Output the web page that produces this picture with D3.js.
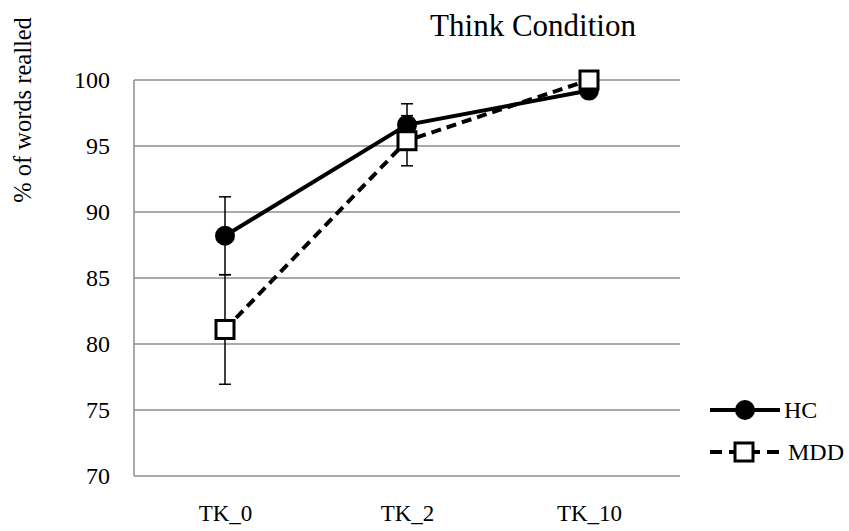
<!DOCTYPE html>
<html>
<head>
<meta charset="utf-8">
<script src="https://cdn.jsdelivr.net/npm/d3@7/dist/d3.min.js"></script>
<style>
  html, body { margin: 0; padding: 0; background: #fff; }
  svg { display: block; }
  svg text { fill: #000; }
</style>
</head>
<body>
<svg id="chart" width="849" height="531"></svg>
<script>
// Recall data: percentage of words recalled per delay, with error bars
const categories = ["TK_0", "TK_2", "TK_10"];
const hcValues = [88.2, 96.6, 99.2];
const hcErrors = [2.95, 1.6, 0.5];
const mddValues = [81.1, 95.4, 100.0];
const mddErrors = [4.15, 1.9, 0];
const yTicks = [70, 75, 80, 85, 90, 95, 100];
const seriesNames = ["HC", "MDD"];

const serif = '"Liberation Serif", "Times New Roman", Times, serif';
const svg = d3.select("#chart");
const plot = { left: 134, right: 680, top: 80, bottom: 476 };

const x = d3.scalePoint().domain(categories)
  .range([plot.left, plot.right]).padding(0.5);
const y = d3.scaleLinear().domain([70, 100]).range([plot.bottom, plot.top]);

// Horizontal gridlines
svg.append("g").selectAll("line").data(yTicks).join("line")
  .attr("x1", plot.left).attr("x2", plot.right)
  .attr("y1", d => y(d)).attr("y2", d => y(d))
  .attr("stroke", "#8e8e8e").attr("stroke-width", 1.5);

// Left axis line
svg.append("line")
  .attr("x1", plot.left).attr("x2", plot.left)
  .attr("y1", plot.top).attr("y2", plot.bottom)
  .attr("stroke", "#8e8e8e").attr("stroke-width", 1.5);

// Y axis labels
const yAxis = d3.axisLeft(y).tickValues(yTicks).tickSize(0).tickPadding(24);
const yg = svg.append("g").attr("transform", `translate(${plot.left},0)`).call(yAxis)
  .attr("font-family", serif).attr("font-size", 24);
yg.select(".domain").remove();
yg.selectAll("text").attr("dy", "0.33em");

// X axis labels
const xAxis = d3.axisBottom(x).tickSize(0).tickPadding(29);
const xg = svg.append("g").attr("transform", `translate(0,${plot.bottom})`).call(xAxis)
  .attr("font-family", serif).attr("font-size", 23);
xg.select(".domain").remove();

// Title
svg.append("text").attr("x", 533).attr("y", 36).attr("text-anchor", "middle")
  .attr("font-family", serif).attr("font-size", 31).text("Think Condition");

// Y axis title
svg.append("text")
  .attr("transform", "translate(31,110) rotate(-90)")
  .attr("text-anchor", "middle")
  .attr("font-family", serif).attr("font-size", 24.5).text("% of  words realled");

const hc = categories.map((c, i) => ({ c, v: hcValues[i], e: hcErrors[i] }));
const mdd = categories.map((c, i) => ({ c, v: mddValues[i], e: mddErrors[i] }));

function errorBars(data) {
  const g = svg.append("g").attr("stroke", "#000").attr("stroke-width", 1.5);
  data.filter(d => d.e > 0).forEach(d => {
    const cx = x(d.c);
    g.append("line").attr("x1", cx).attr("x2", cx)
      .attr("y1", y(d.v - d.e)).attr("y2", y(d.v + d.e));
    [d.v - d.e, d.v + d.e].forEach(v => {
      g.append("line").attr("x1", cx - 6).attr("x2", cx + 6)
        .attr("y1", y(v)).attr("y2", y(v));
    });
  });
}

const line = d3.line().x(d => x(d.c)).y(d => y(d.v));

errorBars(hc);
errorBars(mdd);

// HC series: solid line with filled circles
svg.append("path").datum(hc).attr("d", line)
  .attr("fill", "none").attr("stroke", "#000").attr("stroke-width", 4);
svg.append("g").selectAll("circle").data(hc).join("circle")
  .attr("cx", d => x(d.c)).attr("cy", d => y(d.v)).attr("r", 10).attr("fill", "#000");

// MDD series: dashed line with open squares
svg.append("path").datum(mdd).attr("d", line)
  .attr("fill", "none").attr("stroke", "#000").attr("stroke-width", 4)
  .attr("stroke-dasharray", "10,6");
svg.append("g").selectAll("rect").data(mdd).join("rect")
  .attr("x", d => x(d.c) - 9).attr("y", d => y(d.v) - 9)
  .attr("width", 18).attr("height", 18)
  .attr("fill", "#fff").attr("stroke", "#000").attr("stroke-width", 3);

// Legend
const legend = svg.append("g").attr("font-family", serif).attr("font-size", 24);
legend.append("line").attr("x1", 710).attr("x2", 780).attr("y1", 410).attr("y2", 410)
  .attr("stroke", "#000").attr("stroke-width", 4);
legend.append("circle").attr("cx", 745).attr("cy", 410).attr("r", 10).attr("fill", "#000");
legend.append("text").attr("x", 784).attr("y", 410).attr("dy", "0.33em")
  .text(seriesNames[0]);

legend.append("line").attr("x1", 710).attr("x2", 785).attr("y1", 452).attr("y2", 452)
  .attr("stroke", "#000").attr("stroke-width", 4).attr("stroke-dasharray", "12,7");
legend.append("rect").attr("x", 735).attr("y", 443).attr("width", 18).attr("height", 18)
  .attr("fill", "#fff").attr("stroke", "#000").attr("stroke-width", 3);
legend.append("text").attr("x", 788).attr("y", 452).attr("dy", "0.33em")
  .text(seriesNames[1]);
</script>
</body>
</html>
